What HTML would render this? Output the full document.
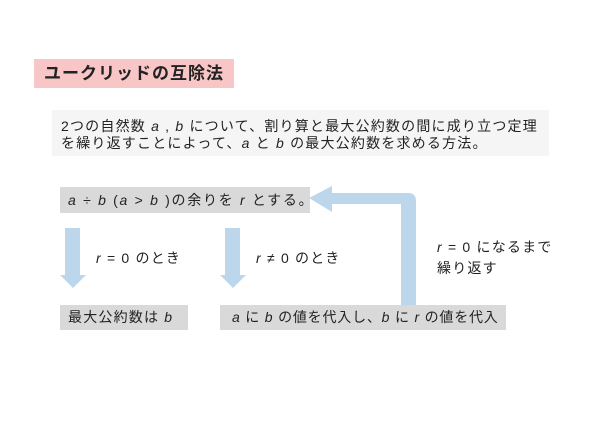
<!DOCTYPE html>
<html><head><meta charset="utf-8"><style>
body{margin:0;width:600px;height:424px;background:#fff;position:relative;overflow:hidden;font-family:"Liberation Sans","Noto Sans CJK JP",sans-serif;color:#222;letter-spacing:1.2px}
.a{position:absolute}
.box{position:absolute;background:#d9d9d9;font-size:14px;line-height:26px;padding-left:8px;box-sizing:border-box;white-space:nowrap}
i{font-style:italic;font-family:"Liberation Sans",sans-serif}
</style></head><body>
<div class="a" style="left:34px;top:59px;width:200px;height:29px;background:#f8c6c6;font-size:17px;font-weight:bold;line-height:29px;padding-left:10px;box-sizing:border-box;letter-spacing:1px">ユークリッドの互除法</div>
<div class="a" style="left:52px;top:110px;width:497px;height:46px;background:#f5f5f5;font-size:14px;line-height:17px;padding:8px 0 0 9px;box-sizing:border-box;white-space:nowrap">2つの自然数 <i>a</i> , <i>b</i> について、割り算と最大公約数の間に成り立つ定理<br>を繰り返すことによって、<i>a</i> と <i>b</i> の最大公約数を求める方法。</div>
<div class="box" style="left:60px;top:187px;width:250px;height:26px;letter-spacing:1.7px"><i>a</i> ÷ <i>b</i> (<i>a</i> &gt; <i>b</i> )の余りを <i>r</i> とする。</div>
<div class="box" style="left:60px;top:305px;width:128px;height:25px;line-height:25px">最大公約数は <i>b</i></div>
<div class="box" style="left:220px;top:305px;width:286px;height:25px;line-height:25px;padding-left:12px;letter-spacing:0.8px"><i>a</i> に <i>b</i> の値を代入し、<i>b</i> に <i>r</i> の値を代入</div>
<svg class="a" style="left:0;top:0" width="600" height="424">
<g fill="#bcd7ec">
<rect x="65" y="228" width="15" height="48"/><polygon points="60,275 86,275 73,288"/>
<rect x="225" y="228" width="15" height="48"/><polygon points="220,275 246,275 233,288"/>
<path d="M401,305 V204 H332 V212 L309,198 L332,186 V193 H408 Q416,193 416,201 V305 Z"/>
</g></svg>
<div class="a" style="left:96px;top:248px;font-size:14px"><i>r</i> = 0 のとき</div>
<div class="a" style="left:256px;top:248px;font-size:14px"><i>r</i> ≠ 0 のとき</div>
<div class="a" style="left:437px;top:237px;font-size:14px;line-height:21px;white-space:nowrap"><i>r</i> = 0 になるまで<br>繰り返す</div>
</body></html>
